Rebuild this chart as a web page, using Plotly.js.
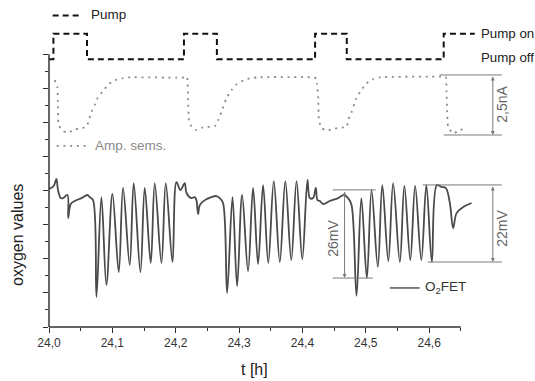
<!DOCTYPE html>
<html>
<head>
<meta charset="utf-8">
<script src="https://cdn.plot.ly/plotly-3.0.1.min.js"></script>
<style>html,body{margin:0;padding:0;background:#fff;}#chart{width:535px;height:381px;}</style>
</head>
<body>
<div id="chart"></div>
<script>
// ---- data (time in hours, signal in arbitrary "oxygen values" units) ----
const pumpT = [24.000, 24.007, 24.060, 24.213, 24.265, 24.420, 24.470, 24.623, 24.672];
const pumpV = [15.7, 17.2, 15.7, 17.2, 15.7, 17.2, 15.7, 17.2, 17.2];

const ampT = [24.009, 24.013, 24.014, 24.015, 24.020, 24.029, 24.041, 24.050, 24.059, 24.063,
  24.067, 24.072, 24.077, 24.085, 24.094, 24.105, 24.115, 24.125, 24.217, 24.218,
  24.2195, 24.221, 24.225, 24.233, 24.243, 24.262, 24.267, 24.272, 24.280, 24.288,
  24.296, 24.308, 24.317, 24.330, 24.414, 24.422, 24.423, 24.425, 24.426, 24.430,
  24.438, 24.448, 24.459, 24.470, 24.472, 24.4775, 24.485, 24.493, 24.501, 24.512,
  24.522, 24.620, 24.626, 24.6275, 24.6285, 24.630, 24.638, 24.6485, 24.659];
const ampV = [14.48, 14.09, 13.21, 11.90, 11.55, 11.39, 11.59, 11.65, 11.74, 12.13,
  12.62, 13.01, 13.44, 13.83, 14.23, 14.48, 14.58, 14.64, 14.64, 14.67,
  13.41, 12.13, 11.74, 11.55, 11.71, 11.78, 12.13, 12.59, 13.41, 13.89,
  14.23, 14.48, 14.58, 14.64, 14.64, 14.58, 14.28, 13.41, 12.13, 11.68,
  11.51, 11.61, 11.68, 11.74, 12.13, 12.59, 13.41, 13.89, 14.28, 14.54,
  14.64, 14.68, 14.67, 13.79, 12.62, 11.74, 11.35, 11.55, 11.65];

const fetT = [24.0000, 24.0074, 24.0117, 24.0142, 24.0185, 24.0221, 24.0291, 24.0303, 24.0343, 24.0406,
  24.0512, 24.0606, 24.0643, 24.0695, 24.0749, 24.0827, 24.0906, 24.1001, 24.1101, 24.1169,
  24.1274, 24.1337, 24.1443, 24.1511, 24.1606, 24.1669, 24.1775, 24.1843, 24.1949, 24.2012,
  24.2075, 24.2143, 24.2170, 24.2249, 24.2301, 24.2327, 24.2353, 24.2380, 24.2459, 24.2564,
  24.2643, 24.2695, 24.2747, 24.2811, 24.2896, 24.2969, 24.3048, 24.3142, 24.3221, 24.3300,
  24.3379, 24.3461, 24.3548, 24.3643, 24.3730, 24.3824, 24.3907, 24.3998, 24.4080, 24.4117,
  24.4169, 24.4211, 24.4238, 24.4274, 24.4327, 24.4432, 24.4563, 24.4658, 24.4721, 24.4775,
  24.4854, 24.4930, 24.5017, 24.5091, 24.5190, 24.5261, 24.5356, 24.5432, 24.5538, 24.5609,
  24.5703, 24.5779, 24.5877, 24.5956, 24.6043, 24.6122, 24.6196, 24.6264, 24.6327, 24.6379,
  24.6433, 24.6537, 24.6670];
const fetV = [8.09, 8.27, 8.68, 8.03, 7.56, 7.56, 7.74, 6.39, 7.21, 7.39,
  7.56, 7.74, 7.62, 7.44, 1.76, 7.62, 2.46, 7.80, 3.22, 8.15,
  3.63, 8.44, 3.22, 8.15, 3.75, 8.44, 3.75, 8.44, 3.81, 8.50,
  8.03, 8.44, 7.86, 7.56, 7.62, 7.44, 6.62, 7.15, 7.44, 7.62,
  7.68, 7.56, 7.27, 1.99, 7.62, 2.40, 7.74, 3.28, 8.15, 3.69,
  8.32, 3.75, 8.56, 3.81, 8.56, 3.93, 8.56, 3.98, 8.62, 7.56,
  7.56, 8.15, 7.44, 7.39, 7.21, 7.39, 7.56, 7.74, 7.56, 7.15,
  1.82, 7.56, 2.87, 8.03, 3.52, 8.32, 3.87, 8.44, 3.81, 8.27,
  3.93, 8.27, 3.93, 8.32, 3.81, 8.32, 8.21, 8.15, 7.27, 5.80,
  6.68, 7.03, 7.27];

const xTickVals = [24.0, 24.1, 24.2, 24.3, 24.4, 24.5, 24.6];
const xTickText = ['24,0', '24,1', '24,2', '24,3', '24,4', '24,5', '24,6'];
const xMinorVals = [24.05, 24.15, 24.25, 24.35, 24.45, 24.55, 24.65];
const yTickVals = [0, 2, 4, 6, 8, 10, 12, 14, 16];
const yMinorVals = [1, 3, 5, 7, 9, 11, 13, 15];

// ---- layout helpers ----
const X0 = 24.0, X1 = 24.745, Y0 = 0, Y1 = 19;
const AX = '#333', BAR = '#7a7a7a', FONT = 'Arial, "Liberation Sans", sans-serif';

const traces = [
  {x: pumpT, y: pumpV, mode: 'lines', line: {shape: 'hv', color: '#111', width: 2, dash: '6px,4px'}, hoverinfo: 'skip'},
  {x: ampT, y: ampV, mode: 'lines', line: {shape: 'spline', smoothing: 0.5, color: '#8a8a8a', width: 1.8, dash: '2px,4.7px'}, hoverinfo: 'skip'},
  {x: fetT, y: fetV, mode: 'lines', line: {shape: 'spline', smoothing: 1.0, color: '#4a4a4a', width: 1.8}, hoverinfo: 'skip'}
];

function hline(x0, x1, y, color, width, dash) {
  return {type: 'line', xref: 'x', yref: 'y', x0: x0, x1: x1, y0: y, y1: y, line: {color: color, width: width, dash: dash || 'solid'}};
}

const shapes = [
  // axis lines (limited to the labelled span)
  {type: 'line', xref: 'paper', yref: 'paper', x0: 0, x1: (24.65 - X0) / (X1 - X0), y0: 0, y1: 0, line: {color: AX, width: 1.5}},
  {type: 'line', xref: 'paper', yref: 'paper', x0: 0, x1: 0, y0: 0, y1: 16 / (Y1 - Y0), line: {color: AX, width: 1.5}},
  // legend samples
  hline(24.0058, 24.0516, 18.26, '#111', 2, '6px,4px'),
  hline(24.0122, 24.0595, 10.62, '#8a8a8a', 1.8, '2px,4.7px'),
  hline(24.5378, 24.5851, 2.29, '#4a4a4a', 1.4),
  // 2,5nA scale bar
  hline(24.6167, 24.7147, 14.78, BAR, 1),
  hline(24.6230, 24.7147, 11.26, BAR, 1),
  // 26mV scale bar
  hline(24.4478, 24.5157, 8.04, BAR, 1),
  hline(24.4478, 24.5110, 2.87, BAR, 1),
  // 22mV scale bar
  hline(24.5899, 24.7147, 8.33, BAR, 1),
  hline(24.5977, 24.7147, 3.81, BAR, 1)
];

function arrow(x, y0, y1) {
  return {x: x, y: y1, ax: x, ay: y0, xref: 'x', yref: 'y', axref: 'x', ayref: 'y', text: '',
    showarrow: true, arrowside: 'end+start', arrowhead: 2, arrowsize: 0.8, arrowwidth: 1, arrowcolor: BAR,
    standoff: 0, startstandoff: 0};
}
function label(text, x, y, size, color, opts) {
  return Object.assign({text: text, x: x, y: y, xref: 'x', yref: 'y', showarrow: false,
    xanchor: 'left', yanchor: 'middle', font: {family: FONT, size: size, color: color}}, opts || {});
}

const annotations = [
  label('Pump', 24.0627, 18.30, 13.5, '#222'),
  label('Amp. sems.', 24.0690, 10.62, 13.5, '#8a8a8a'),
  label('O<sub>2</sub>FET', 24.5899, 2.33, 13.5, '#333'),
  label('Pump on', 24.6783, 17.24, 13.3, '#222'),
  label('Pump off', 24.6783, 15.78, 13.3, '#222'),
  label('2,5nA', 24.7147, 13.08, 14, '#666', {xanchor: 'center', textangle: -90}),
  label('26mV', 24.4478, 5.22, 14, '#666', {xanchor: 'center', textangle: -90}),
  label('22mV', 24.7147, 5.81, 14, '#666', {xanchor: 'center', textangle: -90}),
  arrow(24.7005, 14.78, 11.26),
  arrow(24.4665, 8.04, 2.87),
  arrow(24.7005, 8.33, 3.81),
  {text: 'oxygen values', xref: 'paper', yref: 'paper', x: -0.0657, y: 0.284, showarrow: false,
    textangle: -90, xanchor: 'center', yanchor: 'middle', font: {family: FONT, size: 16, color: '#222'}},
  {text: 't [h]', xref: 'paper', yref: 'paper', x: 0.4364, y: -0.1327, showarrow: false,
    xanchor: 'center', yanchor: 'middle', font: {family: FONT, size: 16, color: '#222'}}
];

const layout = {
  width: 535, height: 381,
  margin: {l: 49, r: 14, t: 3, b: 54, pad: 0},
  paper_bgcolor: '#fff', plot_bgcolor: '#fff',
  showlegend: false,
  xaxis: {
    range: [X0, X1], showgrid: false, zeroline: false, showline: false,
    tickmode: 'array', tickvals: xTickVals, ticktext: xTickText,
    ticks: 'outside', ticklen: 5, tickwidth: 1, tickcolor: AX,
    tickfont: {family: FONT, size: 12, color: '#333'},
    minor: {tickmode: 'array', tickvals: xMinorVals, ticks: 'outside', ticklen: 3, tickwidth: 1, tickcolor: AX, showgrid: false}
  },
  yaxis: {
    range: [Y0, Y1], showgrid: false, zeroline: false, showline: false,
    tickmode: 'array', tickvals: yTickVals, showticklabels: false,
    ticks: 'outside', ticklen: 5, tickwidth: 1, tickcolor: AX,
    minor: {tickmode: 'array', tickvals: yMinorVals, ticks: 'outside', ticklen: 3, tickwidth: 1, tickcolor: AX, showgrid: false}
  },
  shapes: shapes,
  annotations: annotations
};

Plotly.newPlot('chart', traces, layout, {staticPlot: true, displayModeBar: false});
</script>
</body>
</html>
